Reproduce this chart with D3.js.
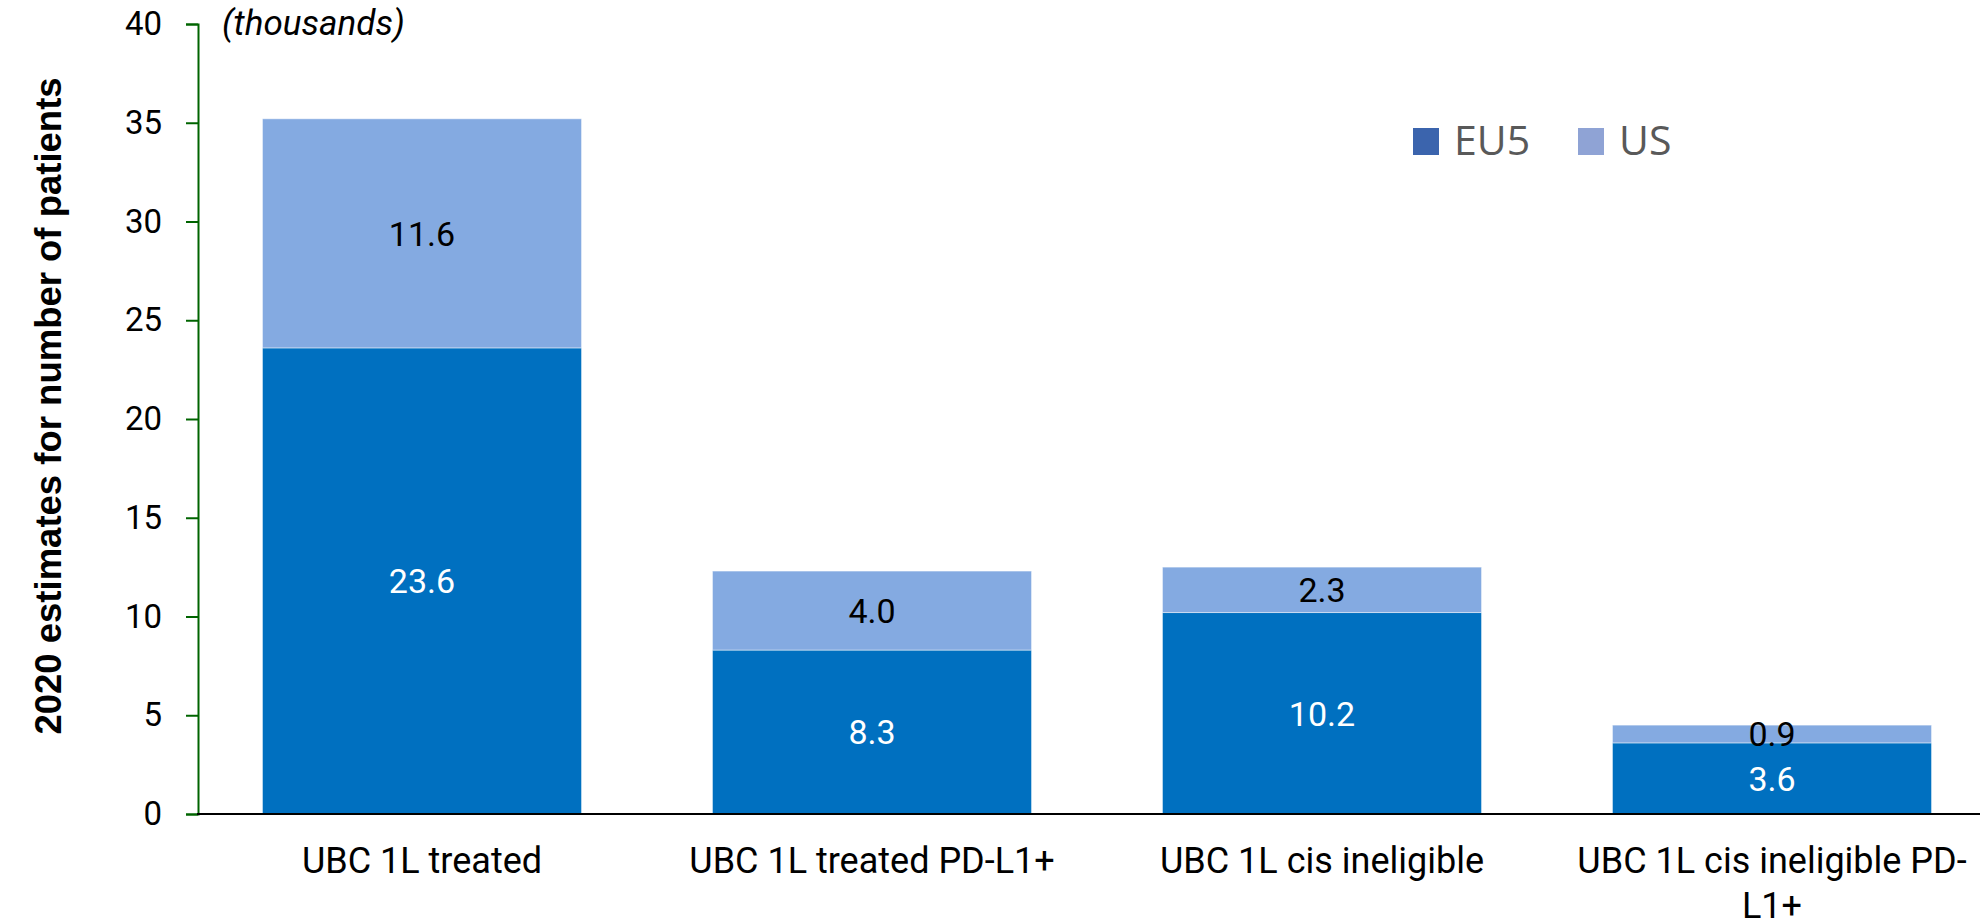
<!DOCTYPE html>
<html>
<head>
<meta charset="utf-8">
<script src="https://cdn.jsdelivr.net/npm/d3@7"></script>
<style>
  html, body { margin: 0; padding: 0; background: #fff; }
  svg { display: block; }
</style>
</head>
<body>
<svg id="chart" width="1980" height="922"></svg>
<script>
const categories = ["UBC 1L treated", "UBC 1L treated PD-L1+", "UBC 1L cis ineligible", "UBC 1L cis ineligible PD-L1+"];
const seriesNames = ["EU5", "US"];
const eu5Values = [23.6, 8.3, 10.2, 3.6];
const usValues = [11.6, 4.0, 2.3, 0.9];
const yTicks = [0, 5, 10, 15, 20, 25, 30, 35, 40];
const yTitle = "2020 estimates for number of patients";
const unitNote = "(thousands)";

const barColors = { EU5: "#0070C0", US: "#84AAE1" };
const legendColors = { EU5: "#3B64AD", US: "#8FA3D5" };
const labelColors = { EU5: "#ffffff", US: "#000000" };

const svg = d3.select("#chart");

const y = d3.scaleLinear().domain([0, 40]).range([814, 24]);
const x = d3.scaleBand().domain(categories).range([197, 1997]).paddingInner(0.291).paddingOuter(0.1455);

const rows = categories.map((c, i) => ({ cat: c, EU5: eu5Values[i], US: usValues[i] }));
const stacked = d3.stack().keys(seriesNames)(rows);

// bars
const layers = svg.append("g").selectAll("g").data(stacked).join("g")
  .attr("fill", d => barColors[d.key]);
layers.selectAll("rect").data(d => d.map(v => ({ key: d.key, v }))).join("rect")
  .attr("x", d => x(d.v.data.cat))
  .attr("width", x.bandwidth())
  .attr("y", d => y(d.v[1]))
  .attr("height", d => y(d.v[0]) - y(d.v[1]))
  .attr("stroke", "#ffffff").attr("stroke-opacity", 0.45).attr("stroke-width", 1);

// value labels
layers.each(function(layer) {
  d3.select(this).selectAll("text").data(layer.map(v => ({ key: layer.key, v }))).join("text")
    .attr("x", d => x(d.v.data.cat) + x.bandwidth() / 2)
    .attr("y", d => (y(d.v[0]) + y(d.v[1])) / 2)
    .attr("dy", "0.36em")
    .attr("text-anchor", "middle")
    .attr("font-family", "Roboto, sans-serif")
    .attr("font-size", 34)
    .attr("fill", labelColors[layer.key])
    .text(d => d3.format(".1f")(d.v[1] - d.v[0]));
});

// y axis
const yAxis = svg.append("g").attr("transform", "translate(198,0)")
  .call(d3.axisLeft(y).tickValues(yTicks).tickSize(12).tickPadding(24).tickFormat(d3.format("d")));
yAxis.select(".domain").attr("stroke", "#006400").attr("stroke-width", 2);
yAxis.selectAll(".tick line").attr("stroke", "#006400").attr("stroke-width", 2);
yAxis.selectAll(".tick text").attr("font-family", "Roboto, sans-serif").attr("font-size", 33).attr("fill", "#000");

// x axis line
svg.append("line").attr("x1", 197).attr("x2", 1980).attr("y1", y(0)).attr("y2", y(0))
  .attr("stroke", "#000").attr("stroke-width", 2);

// x labels with wrapping
const xl = svg.append("g").selectAll("text").data(categories).join("text")
  .attr("x", d => x(d) + x.bandwidth() / 2)
  .attr("y", 873)
  .attr("text-anchor", "middle")
  .attr("font-family", "Roboto, sans-serif")
  .attr("font-size", 36)
  .attr("fill", "#000");
xl.each(function(d) {
  const t = d3.select(this);
  const cx = x(d) + x.bandwidth() / 2;
  const tokens = d.match(/[^\s-]+-?|\s+/g).filter(s => s.trim().length);
  const parts = [];
  let rest = d;
  tokens.forEach(tok => {
    const idx = rest.indexOf(tok);
    rest = rest.slice(idx + tok.length);
    const sp = rest.startsWith(" ");
    parts.push({ tok, sp });
  });
  const maxW = 420;
  let lines = [];
  let cur = "";
  const measure = s => { t.text(s); return this.getComputedTextLength(); };
  parts.forEach((p) => {
    const cand = cur + p.tok;
    if (cur && measure(cand.trim()) > maxW) {
      lines.push(cur.trim());
      cur = p.tok + (p.sp ? " " : "");
    } else {
      cur = cand + (p.sp ? " " : "");
    }
  });
  if (cur.trim()) lines.push(cur.trim());
  t.text(null);
  lines.forEach((ln, i) => {
    t.append("tspan").attr("x", cx).attr("dy", i === 0 ? 0 : 45).text(ln);
  });
});

// y title
svg.append("text")
  .attr("transform", "translate(61,406) rotate(-90)")
  .attr("text-anchor", "middle")
  .attr("font-family", "'Liberation Sans', Arial, sans-serif")
  .attr("font-weight", "bold")
  .attr("font-size", 36.5)
  .attr("fill", "#000")
  .text(yTitle);

// unit note
svg.append("text")
  .attr("x", 222).attr("y", 35)
  .attr("font-family", "Roboto, sans-serif")
  .attr("font-style", "italic")
  .attr("font-size", 35)
  .attr("fill", "#000")
  .text(unitNote);

// legend
const legendX = [1413, 1578];
const lg = svg.append("g").selectAll("g").data(seriesNames).join("g")
  .attr("transform", (d, i) => `translate(${legendX[i]},128)`);
lg.append("rect").attr("width", 26).attr("height", 27).attr("fill", d => legendColors[d]);
lg.append("text").attr("x", 41).attr("y", 27)
  .attr("font-family", "'Open Sans', sans-serif")
  .attr("font-size", 41)
  .attr("fill", "#595959")
  .text(d => d);
</script>
</body>
</html>
